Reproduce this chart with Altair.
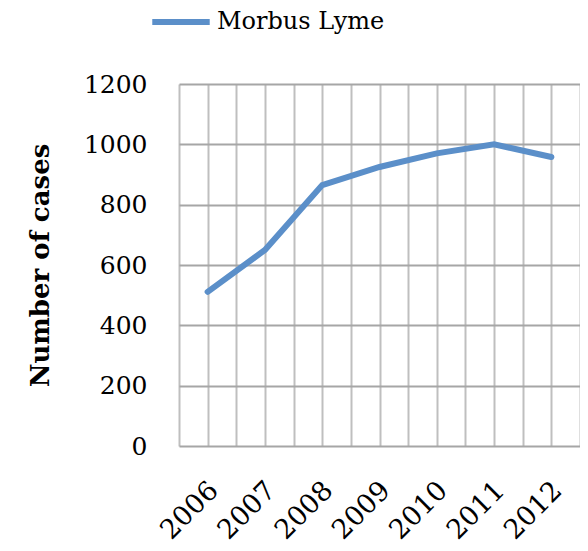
import altair as alt
import pandas as pd

years = [2006, 2007, 2008, 2009, 2010, 2011, 2012]
cases = [511, 650, 865, 925, 970, 1000, 958]
series = ["Morbus Lyme"] * len(years)
y_ticks = [0, 200, 400, 600, 800, 1000, 1200]
x_grid = [2005.5, 2006, 2006.5, 2007, 2007.5, 2008, 2008.5, 2009, 2009.5,
          2010, 2010.5, 2011, 2011.5, 2012, 2012.5]

df = pd.DataFrame({"year": years, "cases": cases, "series": series})

FONT = "DejaVu Serif"

chart = alt.Chart(df).mark_line(strokeWidth=6, strokeCap="round").encode(
    x=alt.X("year:Q",
            scale=alt.Scale(domain=[2005.5, 2012.5], nice=False, zero=False),
            axis=alt.Axis(values=x_grid, title=None, ticks=False, domain=False,
                          grid=True, gridColor="#bfbfbf", gridWidth=2,
                          labelExpr="datum.value % 1 == 0 ? toString(datum.value) : ''",
                          labelAngle=-45, labelAlign="right", labelBaseline="middle",
                          labelPadding=40, labelOffset=6,
                          labelFont=FONT, labelFontSize=27, labelColor="#000000",
                          labelOverlap=False, labelFlush=False, labelLimit=0)),
    y=alt.Y("cases:Q",
            scale=alt.Scale(domain=[0, 1200], nice=False),
            axis=alt.Axis(values=y_ticks, title="Number of cases", ticks=False,
                          format="d",
                          domain=False, grid=True, gridColor="#a6a6a6", gridWidth=2,
                          labelPadding=32, labelFont=FONT, labelFontSize=25,
                          labelColor="#000000",
                          titleFont=FONT, titleFontSize=26, titleFontWeight="bold",
                          titleColor="#000000", titlePadding=30)),
    color=alt.Color("series:N",
                    scale=alt.Scale(range=["#5b8fc9"]),
                    legend=alt.Legend(title=None, orient="none", legendX=-30, legendY=-94,
                                      symbolType="stroke", symbolSize=3300,
                                      symbolStrokeWidth=6, labelFont=FONT,
                                      labelFontSize=24, labelColor="#000000",
                                      labelLimit=0, padding=0, labelOffset=4)),
).properties(
    width=401, height=362,
    autosize=alt.AutoSizeParams(type="none"),
    padding={"left": 171, "top": 76, "right": 0, "bottom": 105},
).configure_view(stroke=None)

chart.save("out.html", embed_options={"renderer": "svg", "actions": False})
